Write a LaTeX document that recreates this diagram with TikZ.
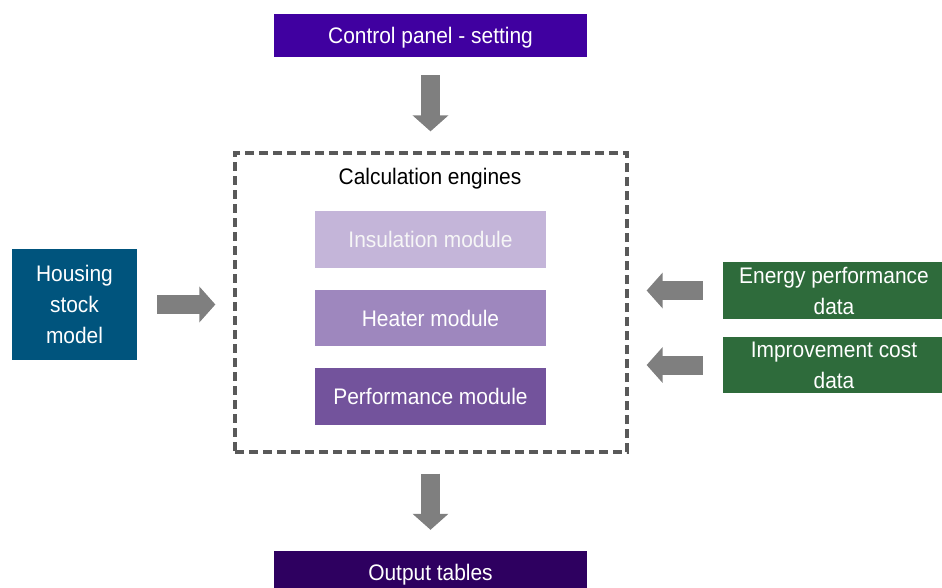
\documentclass[tikz,border=0pt]{standalone}
\usepackage{fontspec}
\setmainfont{Liberation Sans}[FakeStretch=0.93]
\usepackage{tikz}
\usetikzlibrary{positioning, arrows.meta, calc}

\definecolor{ctrlviolet}{RGB}{64,0,160}
\definecolor{outviolet}{RGB}{46,0,96}
\definecolor{housingblue}{RGB}{0,84,125}
\definecolor{datagreen}{RGB}{46,107,59}
\definecolor{insulilac}{RGB}{196,181,217}
\definecolor{heatlilac}{RGB}{158,135,190}
\definecolor{perflilac}{RGB}{115,83,156}
\definecolor{arrowgray}{RGB}{127,127,127}
\definecolor{dashgray}{RGB}{89,89,89}

\begin{document}
\begin{tikzpicture}[x=1pt, y=-1pt,
	box/.style={inner sep=0pt, text=white, align=center, font=\fontsize{22.5}{31}\selectfont},
	oneline/.style={box, text depth=0pt},
	fatarrow/.style={draw=arrowgray, line width=19pt, -{Triangle[length=16pt, width=35pt]}}]
	\useasboundingbox (0,0) rectangle (942,587);
	% top and bottom bars
	\node[oneline, fill=ctrlviolet, minimum width=313pt, minimum height=43pt] (ctrl) at (430.5,35.5) {Control panel - setting};
	\node[oneline, fill=outviolet, minimum width=313pt, minimum height=43pt] (out) at (430.5,572.5) {Output tables};
	% calculation engines
	\node[draw=dashgray, line width=3.3pt, dash pattern=on 9pt off 5pt, minimum width=392pt, minimum height=299pt, inner sep=0pt] (calc) at (431,302.5) {};
	\node[oneline, text=black] (calctitle) at (430,176) {Calculation engines};
	\node[oneline, fill=insulilac, text=white!93!gray, minimum width=231pt, minimum height=57pt] (ins) at (430.5,239.5) {Insulation module};
	\node[oneline, fill=heatlilac, minimum width=231pt, minimum height=56pt] (heat) at (430.5,318) {Heater module};
	\node[oneline, fill=perflilac, minimum width=231pt, minimum height=57pt] (perf) at (430.5,396.5) {Performance module};
	% inputs
	\node[box, fill=housingblue, minimum width=125pt, minimum height=111pt] (house) at (74.5,304.5) {Housing\\stock\\model};
	\node[box, fill=datagreen, minimum width=222pt, minimum height=57pt] (energy) at (834,290.5) {Energy performance\\data};
	\node[box, fill=datagreen, minimum width=222pt, minimum height=56pt] (cost) at (834,365) {Improvement cost\\data};
	% arrows
	\draw[fatarrow, shorten <=18pt, shorten >=20pt] (ctrl.south) -- (ctrl.south |- calc.north);
	\draw[fatarrow, shorten <=20pt, shorten >=21pt] (out.north |- calc.south) -- (out.north);
	\draw[fatarrow, shorten <=20pt, shorten >=18pt] (house.east) -- (house.east -| calc.west);
	\draw[fatarrow, shorten <=20pt, shorten >=18pt] (energy.west) -- (energy.west -| calc.east);
	\draw[fatarrow, shorten <=20pt, shorten >=18pt] (cost.west) -- (cost.west -| calc.east);
\end{tikzpicture}
\end{document}
